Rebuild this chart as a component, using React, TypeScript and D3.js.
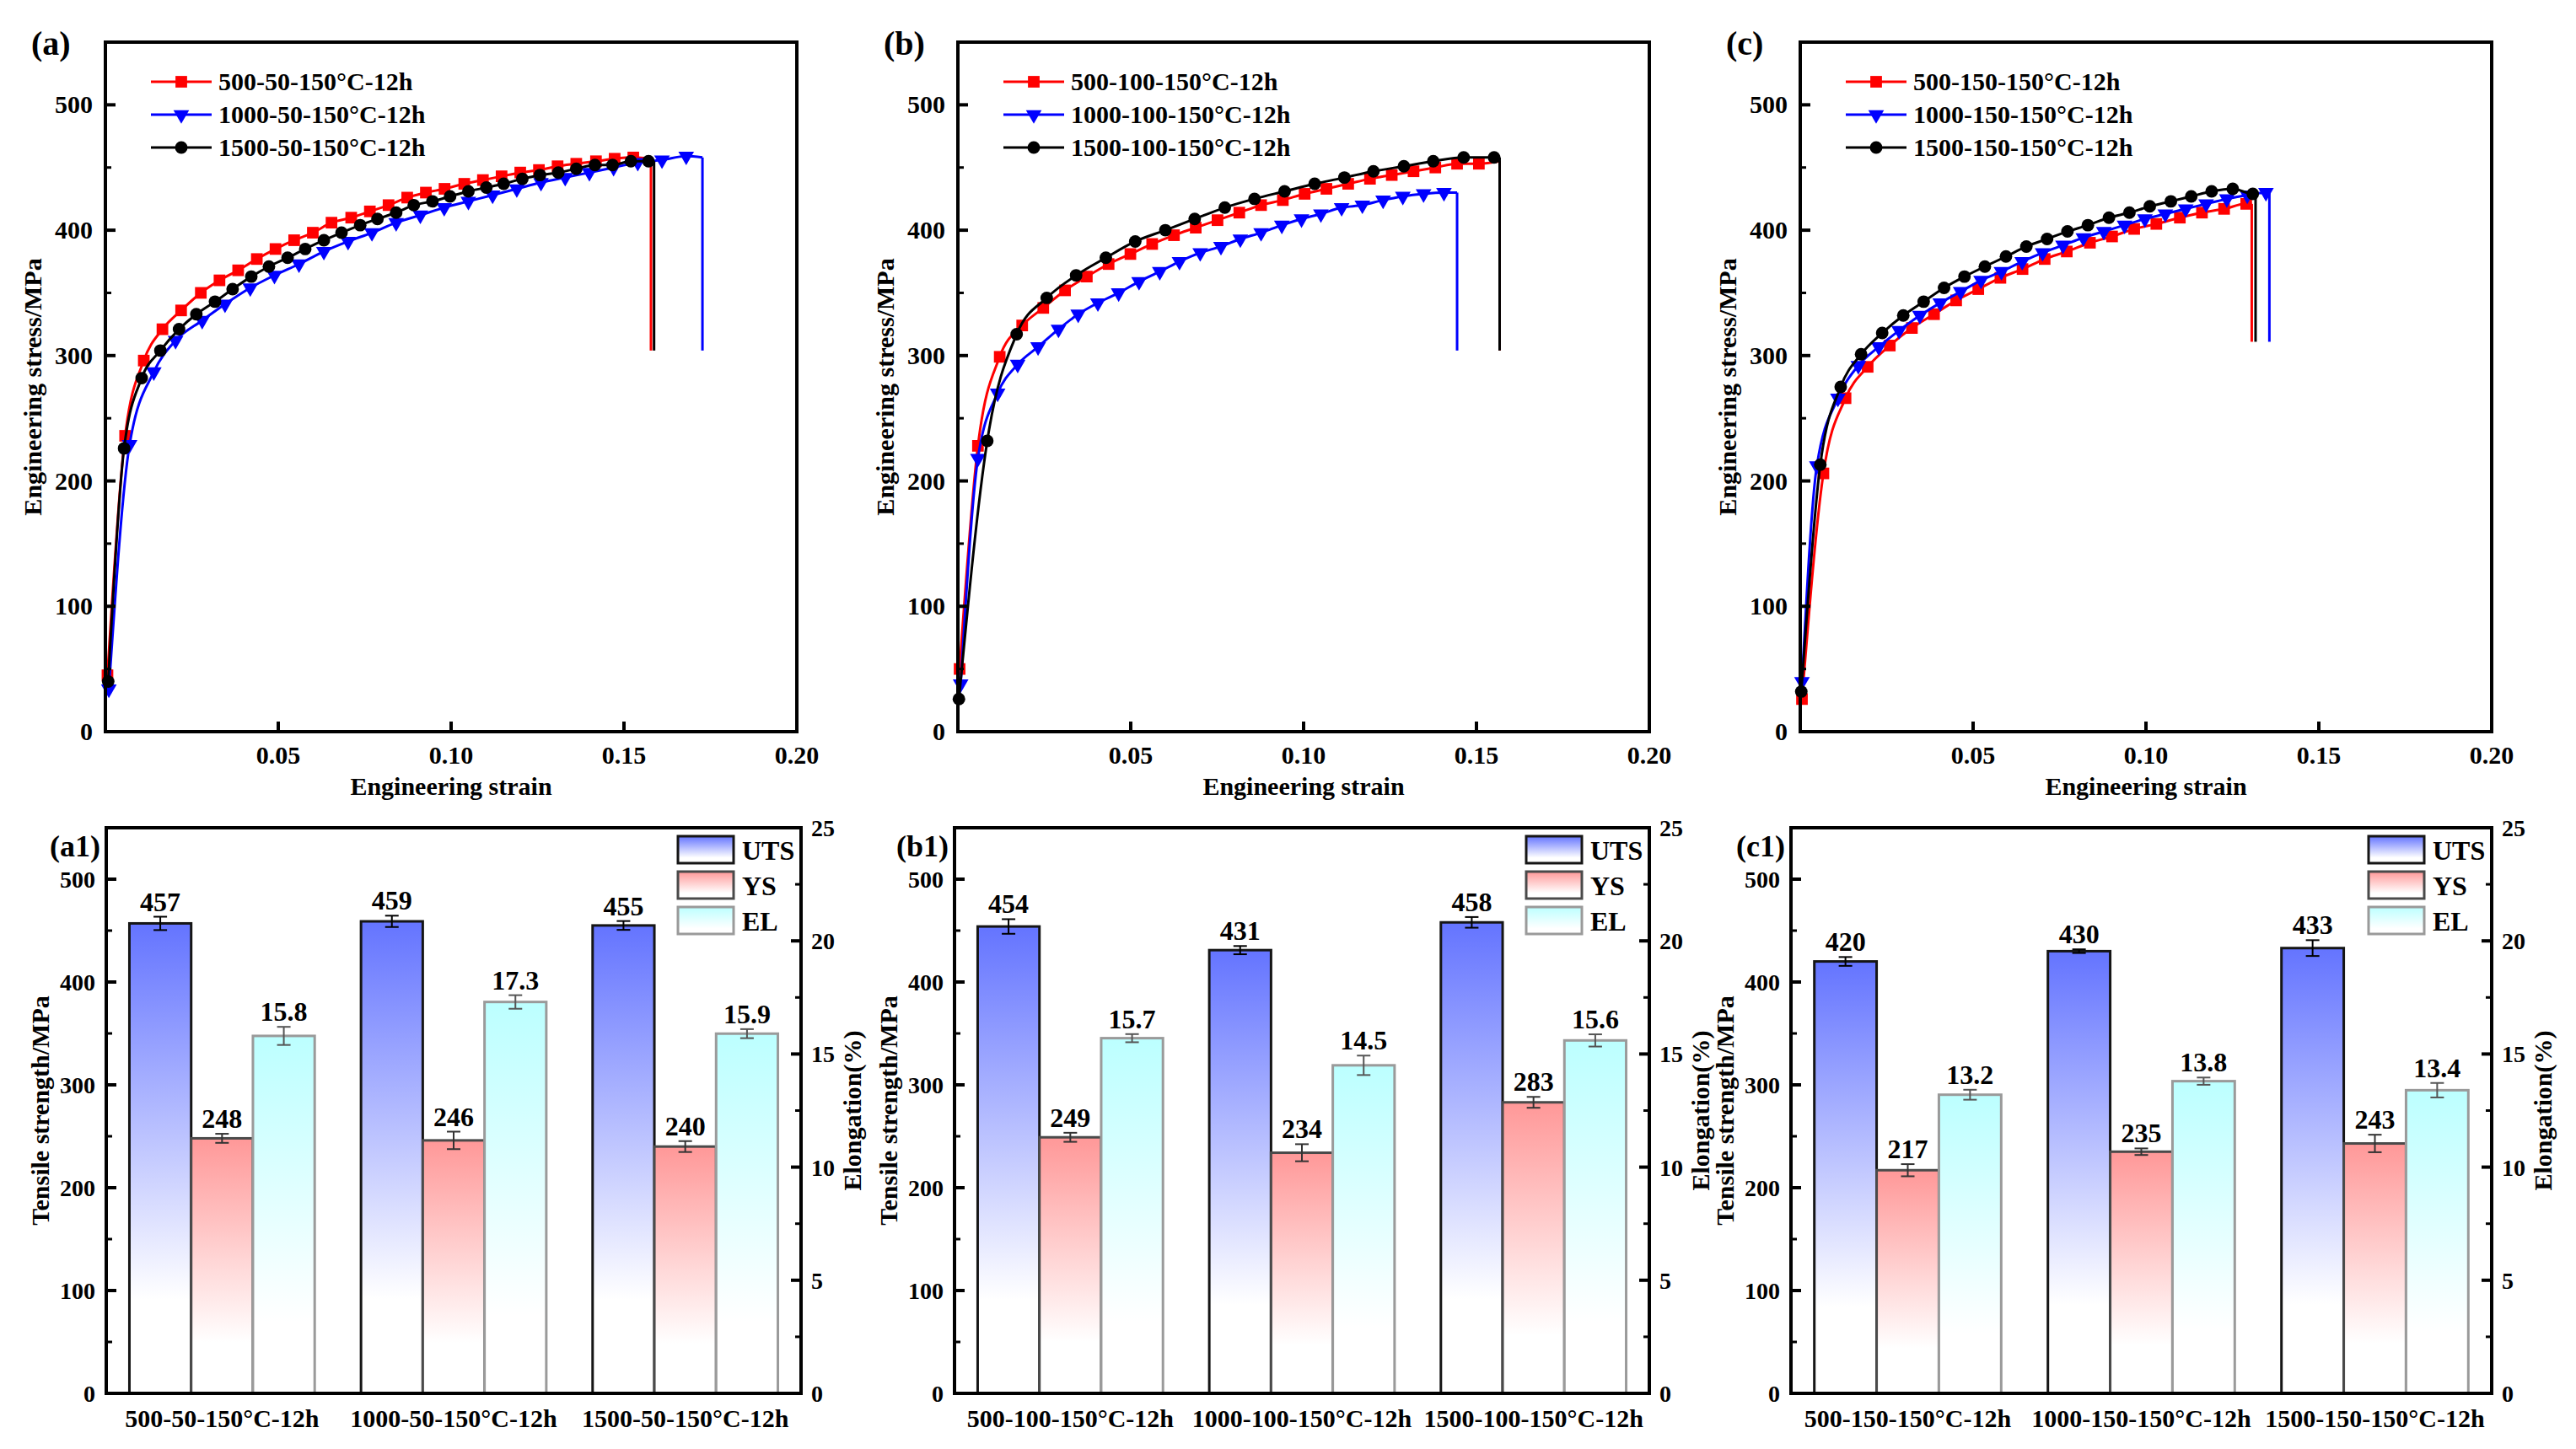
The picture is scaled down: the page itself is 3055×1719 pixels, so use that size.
import React, { useEffect } from "react";
import * as d3 from "d3";

type Pt = [number, number];

const FONT = "'Liberation Serif', 'Times New Roman', Times, serif";

// ---- tensile curves: [strain, stress MPa] at the marker positions ----
const STRAIN_TICKS = [0.05, 0.1, 0.15, 0.2];
const STRESS_TICKS = [0, 100, 200, 300, 400, 500];
const STRESS_MINOR = [50, 150, 250, 350, 450];

const A_NAMES = ["500-50-150\u00B0C-12h", "1000-50-150\u00B0C-12h", "1500-50-150\u00B0C-12h"];
const B_NAMES = ["500-100-150\u00B0C-12h", "1000-100-150\u00B0C-12h", "1500-100-150\u00B0C-12h"];
const C_NAMES = ["500-150-150\u00B0C-12h", "1000-150-150\u00B0C-12h", "1500-150-150\u00B0C-12h"];

const A_500: Pt[] = [
  [0.0006, 45], [0.0057, 236], [0.0111, 296], [0.0165, 321], [0.0219, 336], [0.0276, 350],
  [0.033, 360], [0.0384, 368], [0.0438, 377], [0.0492, 385], [0.0546, 392], [0.06, 398],
  [0.0654, 406], [0.0711, 410], [0.0765, 415], [0.0819, 420], [0.0873, 426], [0.0927, 430],
  [0.0981, 433], [0.1038, 437], [0.1092, 440], [0.1146, 443], [0.12, 446], [0.1254, 448],
  [0.1308, 451], [0.1362, 453], [0.1419, 455], [0.1473, 457], [0.1527, 458],
];
const A_1000: Pt[] = [
  [0.001, 34], [0.007, 229], [0.014, 287], [0.0203, 312], [0.028, 328], [0.0346, 341],
  [0.0419, 354], [0.0489, 364], [0.056, 373], [0.0632, 383], [0.0702, 391], [0.0771, 398],
  [0.0841, 406], [0.0911, 412], [0.098, 418], [0.105, 423], [0.112, 428], [0.119, 433],
  [0.126, 438], [0.133, 442], [0.14, 446], [0.147, 450], [0.154, 454], [0.161, 456], [0.168, 459],
];
const A_1500: Pt[] = [
  [0.0008, 40], [0.0054, 226], [0.0105, 282], [0.0159, 304], [0.0213, 321], [0.0263, 333],
  [0.0317, 343], [0.0368, 353], [0.0422, 363], [0.0473, 371], [0.0527, 378], [0.0578, 385],
  [0.0632, 392], [0.0683, 398], [0.0737, 404], [0.0787, 409], [0.0841, 414], [0.0892, 420],
  [0.0946, 423], [0.0997, 427], [0.105, 431], [0.1102, 434], [0.1152, 437], [0.1206, 441],
  [0.1257, 444], [0.131, 446], [0.1362, 449], [0.1416, 452], [0.1467, 452], [0.152, 455], [0.1571, 455],
];
const A_END: Pt[] = [[0.1578, 457], [0.1727, 458], [0.1587, 455]];
const A_DROP = 304;

const B_500: Pt[] = [
  [0.0005, 50], [0.0058, 228], [0.0121, 299], [0.0186, 324], [0.0247, 338], [0.031, 352],
  [0.0373, 363], [0.0436, 373], [0.0499, 381], [0.0562, 389], [0.0625, 396], [0.0688, 402],
  [0.0751, 408], [0.0814, 414], [0.0877, 420], [0.094, 424], [0.1003, 429], [0.1066, 433],
  [0.1129, 437], [0.1192, 441], [0.1255, 444], [0.1318, 447], [0.1381, 450], [0.1444, 453], [0.1507, 453],
];
const B_1000: Pt[] = [
  [0.0008, 38], [0.0058, 218], [0.0115, 270], [0.0173, 293], [0.0232, 307], [0.0291, 321],
  [0.0348, 333], [0.0405, 342], [0.0465, 350], [0.0524, 359], [0.0584, 367], [0.0641, 375],
  [0.0701, 382], [0.0761, 387], [0.0817, 393], [0.0877, 398], [0.0937, 404], [0.0994, 409],
  [0.105, 413], [0.111, 418], [0.117, 420], [0.123, 424], [0.1287, 427], [0.1347, 429], [0.1406, 430],
];
const B_1500: Pt[] = [
  [0.0003, 26], [0.0085, 232], [0.017, 317], [0.0257, 346], [0.0342, 364], [0.0428, 378],
  [0.0513, 391], [0.06, 400], [0.0685, 409], [0.0772, 418], [0.0858, 425], [0.0945, 431],
  [0.1032, 437], [0.1118, 442], [0.1202, 447], [0.129, 451], [0.1375, 455], [0.1463, 458], [0.1551, 458],
];
const B_END: Pt[] = [[0.1567, 455], [0.1444, 430], [0.1567, 458]];
const B_DROP = 304;

const C_500: Pt[] = [
  [0.0005, 26], [0.0067, 206], [0.0131, 266], [0.0195, 291], [0.0259, 308], [0.0323, 322],
  [0.0387, 333], [0.0451, 344], [0.0515, 353], [0.0579, 362], [0.0643, 369], [0.0707, 377],
  [0.0771, 383], [0.0838, 390], [0.0902, 395], [0.0966, 401], [0.103, 405], [0.1098, 410],
  [0.1162, 414], [0.1226, 417], [0.129, 421],
];
const C_1000: Pt[] = [
  [0.0005, 40], [0.0048, 212], [0.0109, 266], [0.0168, 292], [0.0227, 307], [0.0286, 320],
  [0.0346, 332], [0.0405, 342], [0.0464, 351], [0.0523, 360], [0.0582, 367], [0.0642, 375],
  [0.0701, 382], [0.076, 388], [0.0819, 394], [0.0878, 399], [0.0938, 404], [0.0997, 409],
  [0.1056, 413], [0.1115, 417], [0.1174, 421], [0.1234, 425], [0.1293, 428], [0.1347, 430],
];
const C_1500: Pt[] = [
  [0.0003, 32], [0.0058, 213], [0.0117, 275], [0.0176, 301], [0.0237, 318], [0.0298, 332],
  [0.0357, 343], [0.0416, 354], [0.0475, 363], [0.0534, 371], [0.0595, 379], [0.0654, 387],
  [0.0714, 393], [0.0773, 399], [0.0832, 404], [0.0893, 410], [0.0952, 414], [0.1011, 419],
  [0.1072, 423], [0.1131, 427], [0.119, 431], [0.1251, 433], [0.1309, 429],
];
const C_END: Pt[] = [[0.1306, 421], [0.1357, 430], [0.1317, 429]];
const C_DROP = 311;

// ---- bar charts ----
const BAR_SERIES = ["UTS", "YS", "EL"];
const STRENGTH_TICKS = [0, 100, 200, 300, 400, 500];
const STRENGTH_MINOR = [50, 150, 250, 350, 450];
const EL_TICKS = [0, 5, 10, 15, 20, 25];
const EL_MINOR = [2.5, 7.5, 12.5, 17.5, 22.5];

const UTS_A = [457, 459, 455];
const UTS_A_ERR = [6.5, 5.5, 4.3];
const YS_A = [248, 246, 240];
const YS_A_ERR = [4.4, 8.5, 5.3];
const EL_A = [15.8, 17.3, 15.9];
const EL_A_ERR = [0.4, 0.3, 0.2];

const UTS_B = [454, 431, 458];
const UTS_B_ERR = [7.1, 4, 5.2];
const YS_B = [249, 234, 283];
const YS_B_ERR = [4.4, 8.3, 5.3];
const EL_B = [15.7, 14.5, 15.6];
const EL_B_ERR = [0.18, 0.43, 0.27];

const UTS_C = [420, 430, 433];
const UTS_C_ERR = [4.3, 1.8, 7.7];
const YS_C = [217, 235, 243];
const YS_C_ERR = [5.9, 3.2, 8.5];
const EL_C = [13.2, 13.8, 13.4];
const EL_C_ERR = [0.22, 0.16, 0.32];

const CURVE_STYLE = [
  { color: "#ff0000", symbol: d3.symbolSquare, size: 190, rot: 0 },
  { color: "#0000ff", symbol: d3.symbolTriangle, size: 150, rot: 180 },
  { color: "#000000", symbol: d3.symbolCircle, size: 175, rot: 0 },
];

const BAR_STYLE: Record<string, { fill: string; stroke: string; err: string }> = {
  UTS: { fill: "url(#gUTS)", stroke: "#151515", err: "#000" },
  YS: { fill: "url(#gYS)", stroke: "#4a4a4a", err: "#333" },
  EL: { fill: "url(#gEL)", stroke: "#9a9a9a", err: "#555" },
};

function Marker({ cx, cy, s }: { cx: number; cy: number; s: (typeof CURVE_STYLE)[number] }) {
  const d = d3.symbol().type(s.symbol).size(s.size)() || "";
  return <path d={d} transform={`translate(${cx},${cy}) rotate(${s.rot})`} fill={s.color} />;
}

function TensilePanel(props: {
  x0: number;
  label: string;
  names: string[];
  series: Pt[][];
  ends: Pt[];
  drop: number;
}) {
  const { x0, label, names, series, ends, drop } = props;
  const w = 820;
  const y0 = 50;
  const y1 = 868;
  const x = d3.scaleLinear().domain([0, 0.2]).range([x0, x0 + w]);
  const y = d3.scaleLinear().domain([0, 550]).range([y1, y0]);
  const curve = d3
    .line<Pt>()
    .x((d) => x(d[0]))
    .y((d) => y(d[1]))
    .curve(d3.curveMonotoneX);
  const straight = d3
    .line<Pt>()
    .x((d) => x(d[0]))
    .y((d) => y(d[1]));
  const midY = (y0 + y1) / 2;

  return (
    <g>
      {series.map((pts, i) => {
        const s = CURVE_STYLE[i];
        const end = ends[i];
        return (
          <g key={i}>
            <path d={curve([...pts, end]) || ""} fill="none" stroke={s.color} strokeWidth={3} strokeLinejoin="round" />
            <path d={straight([end, [end[0], drop]]) || ""} fill="none" stroke={s.color} strokeWidth={3} />
            {pts.map((p, j) => (
              <Marker key={j} cx={x(p[0])} cy={y(p[1])} s={s} />
            ))}
          </g>
        );
      })}

      {/* legend */}
      {names.map((n, i) => {
        const s = CURVE_STYLE[i];
        const cy = y0 + 47 + i * 39;
        return (
          <g key={n}>
            <line x1={x0 + 54} x2={x0 + 126} y1={cy} y2={cy} stroke={s.color} strokeWidth={3} />
            <Marker cx={x0 + 90} cy={cy} s={s} />
            <text x={x0 + 134} y={cy + 10} fontSize={30}>
              {n}
            </text>
          </g>
        );
      })}

      {/* frame & ticks */}
      <rect x={x0} y={y0} width={w} height={y1 - y0} fill="none" stroke="#000" strokeWidth={4} />
      {STRAIN_TICKS.map((t) => (
        <g key={t}>
          {t < 0.2 && <line x1={x(t)} x2={x(t)} y1={y1} y2={y1 - 12} stroke="#000" strokeWidth={4} />}
          <text x={x(t)} y={906} textAnchor="middle" fontSize={30}>
            {d3.format(".2f")(t)}
          </text>
        </g>
      ))}
      {STRESS_TICKS.map((t) => (
        <g key={t}>
          {t > 0 && <line x1={x0} x2={x0 + 12} y1={y(t)} y2={y(t)} stroke="#000" strokeWidth={4} />}
          <text x={x0 - 15} y={y(t) + 10} textAnchor="end" fontSize={30}>
            {t}
          </text>
        </g>
      ))}
      {STRESS_MINOR.map((t) => (
        <line key={t} x1={x0} x2={x0 + 7} y1={y(t)} y2={y(t)} stroke="#000" strokeWidth={3} />
      ))}
      <text x={x0 + w / 2} y={943} textAnchor="middle" fontSize={30}>
        Engineering strain
      </text>
      <text transform={`translate(${x0 - 76},${midY}) rotate(-90)`} textAnchor="middle" fontSize={30}>
        Engineering stress/MPa
      </text>
      <text x={x0 - 88} y={65} fontSize={40}>
        {label}
      </text>
    </g>
  );
}

function BarPanel(props: {
  x0: number;
  x1: number;
  label: string;
  cats: string[];
  uts: number[];
  utsErr: number[];
  ys: number[];
  ysErr: number[];
  el: number[];
  elErr: number[];
}) {
  const { x0, x1, label, cats, uts, utsErr, ys, ysErr, el, elErr } = props;
  const y0 = 982;
  const y1 = 1653;
  const yL = d3.scaleLinear().domain([0, 550]).range([y1, y0]);
  const yR = d3.scaleLinear().domain([0, 25]).range([y1, y0]);
  const gx = d3.scaleBand().domain(cats).range([x0, x1]).paddingInner(0.2).paddingOuter(0.1);
  const ix = d3.scaleBand().domain(BAR_SERIES).range([0, gx.bandwidth()]);
  const bw = ix.bandwidth();
  const midY = (y0 + y1) / 2;

  const rows = cats.flatMap((c, i) => [
    { cat: c, key: "UTS", v: uts[i], e: utsErr[i], sc: yL, txt: d3.format("d")(uts[i]) },
    { cat: c, key: "YS", v: ys[i], e: ysErr[i], sc: yL, txt: d3.format("d")(ys[i]) },
    { cat: c, key: "EL", v: el[i], e: elErr[i], sc: yR, txt: d3.format(".1f")(el[i]) },
  ]);

  return (
    <g>
      {rows.map((r) => {
        const bx = (gx(r.cat) || 0) + (ix(r.key) || 0);
        const st = BAR_STYLE[r.key];
        const top = r.sc(r.v);
        const eTop = r.sc(r.v + r.e);
        const eBot = r.sc(r.v - r.e);
        const cx = bx + bw / 2;
        return (
          <g key={r.cat + r.key}>
            <rect x={bx} y={top} width={bw} height={y1 - top} fill={st.fill} stroke={st.stroke} strokeWidth={3} />
            <line x1={cx} x2={cx} y1={eTop} y2={eBot} stroke={st.err} strokeWidth={2} />
            <line x1={cx - 8} x2={cx + 8} y1={eTop} y2={eTop} stroke={st.err} strokeWidth={2} />
            <line x1={cx - 8} x2={cx + 8} y1={eBot} y2={eBot} stroke={st.err} strokeWidth={2} />
            <text x={cx} y={eTop - 7} textAnchor="middle" fontSize={32}>
              {r.txt}
            </text>
          </g>
        );
      })}

      {/* legend */}
      {BAR_SERIES.map((k, i) => {
        const st = BAR_STYLE[k];
        const by = y0 + 10 + i * 42;
        return (
          <g key={k}>
            <rect x={x1 - 146} y={by} width={66} height={32} fill={st.fill} stroke={st.stroke} strokeWidth={3} />
            <text x={x1 - 70} y={by + 28} fontSize={32}>
              {k}
            </text>
          </g>
        );
      })}

      <rect x={x0} y={y0} width={x1 - x0} height={y1 - y0} fill="none" stroke="#000" strokeWidth={4} />

      {STRENGTH_TICKS.map((t) => (
        <g key={t}>
          {t > 0 && <line x1={x0} x2={x0 + 12} y1={yL(t)} y2={yL(t)} stroke="#000" strokeWidth={4} />}
          <text x={x0 - 13} y={yL(t) + 10} textAnchor="end" fontSize={28}>
            {t}
          </text>
        </g>
      ))}
      {STRENGTH_MINOR.map((t) => (
        <line key={t} x1={x0} x2={x0 + 7} y1={yL(t)} y2={yL(t)} stroke="#000" strokeWidth={3} />
      ))}
      {EL_TICKS.map((t) => (
        <g key={t}>
          {t > 0 && t < 25 && <line x1={x1} x2={x1 - 12} y1={yR(t)} y2={yR(t)} stroke="#000" strokeWidth={4} />}
          <text x={x1 + 12} y={yR(t) + 10} fontSize={28}>
            {t}
          </text>
        </g>
      ))}
      {EL_MINOR.map((t) => (
        <line key={t} x1={x1} x2={x1 - 7} y1={yR(t)} y2={yR(t)} stroke="#000" strokeWidth={3} />
      ))}

      {cats.map((c) => (
        <text key={c} x={(gx(c) || 0) + gx.bandwidth() / 2} y={1693} textAnchor="middle" fontSize={30}>
          {c}
        </text>
      ))}
      <text transform={`translate(${x0 - 68},${midY}) rotate(-90)`} textAnchor="middle" fontSize={30}>
        Tensile strength/MPa
      </text>
      <text transform={`translate(${x1 + 71},${midY}) rotate(-90)`} textAnchor="middle" fontSize={30}>
        Elongation(%)
      </text>
      <text x={x0 - 7} y={1016} textAnchor="end" fontSize={36}>
        {label}
      </text>
    </g>
  );
}

export default function App() {
  useEffect(() => {
    document.body.style.margin = "0";
  }, []);

  return (
    <svg
      width={3055}
      height={1719}
      viewBox="0 0 3055 1719"
      style={{ position: "absolute", left: 0, top: 0, background: "#fff" }}
      fontFamily={FONT}
      fontWeight="bold"
    >
      <defs>
        <linearGradient id="gUTS" x1="0" y1="0" x2="0" y2="1">
          <stop offset="0" stopColor="#6474ff" />
          <stop offset="0.8" stopColor="#ffffff" />
          <stop offset="1" stopColor="#ffffff" />
        </linearGradient>
        <linearGradient id="gYS" x1="0" y1="0" x2="0" y2="1">
          <stop offset="0" stopColor="#ff9898" />
          <stop offset="0.8" stopColor="#ffffff" />
          <stop offset="1" stopColor="#ffffff" />
        </linearGradient>
        <linearGradient id="gEL" x1="0" y1="0" x2="0" y2="1">
          <stop offset="0" stopColor="#bcffff" />
          <stop offset="0.8" stopColor="#ffffff" />
          <stop offset="1" stopColor="#ffffff" />
        </linearGradient>
      </defs>
      <rect width={3055} height={1719} fill="#fff" />

      <TensilePanel x0={125} label="(a)" names={A_NAMES} series={[A_500, A_1000, A_1500]} ends={A_END} drop={A_DROP} />
      <TensilePanel x0={1136} label="(b)" names={B_NAMES} series={[B_500, B_1000, B_1500]} ends={B_END} drop={B_DROP} />
      <TensilePanel x0={2135} label="(c)" names={C_NAMES} series={[C_500, C_1000, C_1500]} ends={C_END} drop={C_DROP} />

      <BarPanel x0={126} x1={950} label="(a1)" cats={A_NAMES} uts={UTS_A} utsErr={UTS_A_ERR} ys={YS_A} ysErr={YS_A_ERR} el={EL_A} elErr={EL_A_ERR} />
      <BarPanel x0={1132} x1={1956} label="(b1)" cats={B_NAMES} uts={UTS_B} utsErr={UTS_B_ERR} ys={YS_B} ysErr={YS_B_ERR} el={EL_B} elErr={EL_B_ERR} />
      <BarPanel x0={2124} x1={2955} label="(c1)" cats={C_NAMES} uts={UTS_C} utsErr={UTS_C_ERR} ys={YS_C} ysErr={YS_C_ERR} el={EL_C} elErr={EL_C_ERR} />
    </svg>
  );
}
